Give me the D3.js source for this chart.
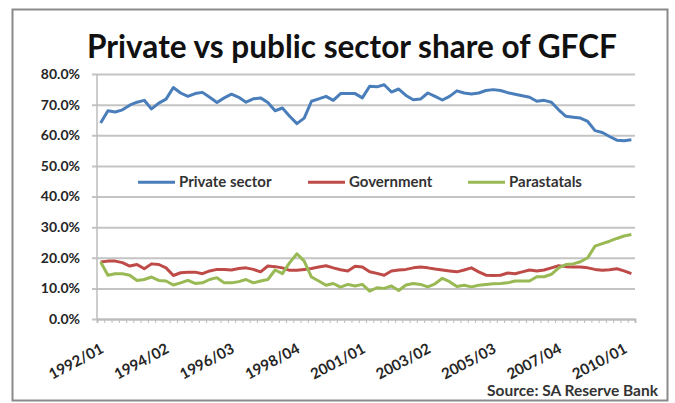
<!DOCTYPE html>
<html>
<head>
<meta charset="utf-8">
<script src="https://cdn.jsdelivr.net/npm/d3@7"></script>
<style>
  body { margin: 0; background: #fff; }
  text { font-family: Lato, "Open Sans", sans-serif; }
</style>
</head>
<body>
<div id="container"></div>
<script>
// Private vs public sector share of GFCF, quarterly 1992/01 - 2010/02

// tick labels shown on the x axis (every 9th quarter)
var tickLabels = ["1992/01", "1994/02", "1996/03", "1998/04", "2001/01",
                  "2003/02", "2005/03", "2007/04", "2010/01"];

// quarters from 1992/01 to 2010/02
var quarters = [];
for (var yr = 1992; yr <= 2010; yr++) {
  for (var q = 1; q <= 4; q++) {
    if (quarters.length < 74) quarters.push(yr + "/0" + q);
  }
}

var privateSector = [
  64.0, 68.0, 67.6, 68.3, 69.8, 70.8, 71.4, 68.6, 70.5, 71.8,
  75.6, 73.8, 72.7, 73.6, 74.0, 72.4, 70.7, 72.2, 73.4, 72.4,
  70.8, 71.9, 72.2, 70.7, 68.0, 68.9, 66.2, 63.8, 65.6, 71.1,
  71.9, 72.7, 71.4, 73.6, 73.6, 73.6, 72.2, 76.0, 75.8, 76.5,
  74.1, 75.1, 73.0, 71.6, 71.8, 73.8, 72.7, 71.5, 72.7, 74.5,
  73.8, 73.5, 73.8, 74.6, 74.9, 74.6, 73.9, 73.4, 72.9, 72.4,
  71.1, 71.4, 70.8, 68.3, 66.2, 65.9, 65.6, 64.5, 61.5, 60.9,
  59.6, 58.4, 58.2, 58.5
];

var government = [
  18.6, 18.9, 18.9, 18.4, 17.3, 17.8, 16.4, 18.0, 17.8, 16.7,
  14.2, 15.1, 15.3, 15.3, 14.8, 15.7, 16.2, 16.2, 16.0, 16.5,
  16.7, 16.2, 15.4, 17.3, 17.1, 16.7, 15.9, 15.9, 16.2, 16.5,
  17.0, 17.4, 16.7, 16.1, 15.7, 17.2, 17.0, 15.4, 14.9, 14.3,
  15.7, 16.0, 16.2, 16.7, 17.0, 16.7, 16.3, 16.0, 15.7, 15.4,
  16.0, 16.7, 15.4, 14.3, 14.2, 14.3, 15.0, 14.8, 15.4, 16.0,
  15.7, 16.0, 16.7, 17.4, 17.1, 17.0, 17.0, 16.7, 16.2, 15.9,
  16.1, 16.4, 15.7, 14.8
];

var parastatals = [
  18.6, 14.3, 14.8, 14.8, 14.3, 12.6, 12.9, 13.7, 12.6, 12.4,
  11.1, 11.8, 12.6, 11.6, 11.8, 12.9, 13.5, 11.8, 11.8, 12.2,
  12.9, 11.8, 12.4, 12.9, 16.0, 14.8, 18.4, 21.3, 18.9, 13.7,
  12.4, 11.0, 11.6, 10.4, 11.3, 10.8, 11.3,  9.1, 10.2, 10.0,
  10.8,  9.3, 11.1, 11.6, 11.3, 10.5, 11.5, 13.3, 12.2, 10.6,
  11.0, 10.5, 11.0, 11.3, 11.5, 11.6, 11.8, 12.4, 12.4, 12.4,
  13.8, 13.8, 14.6, 16.7, 17.8, 18.0, 18.7, 20.0, 23.8, 24.6,
  25.4, 26.3, 27.1, 27.6
];

var seriesNames = ["Private sector", "Government", "Parastatals"];
var seriesColors = ["#4a7ebb", "#be4b48", "#98b954"];
var allSeries = [privateSector, government, parastatals];

var W = 675, H = 403;
var margin = {top: 74, right: 40, bottom: 84, left: 97},
    width = 635 - margin.left,
    height = 319 - margin.top;

var root = d3.select("#container").append("svg")
    .attr("width", W)
    .attr("height", H);

// chart border
root.append("rect")
    .attr("x", 12.5).attr("y", 9.5)
    .attr("width", 655).attr("height", 391)
    .attr("fill", "#fff")
    .attr("stroke", "#8a8a8a")
    .attr("stroke-width", 2);

// title, fitted to the width of the original
var title = root.append("text")
    .attr("x", 352)
    .attr("y", 58)
    .attr("text-anchor", "middle")
    .style("font-weight", "bold")
    .style("font-size", "30px")
    .style("fill", "#111")
    .text("Private vs public sector share of GFCF");
var tl = title.node().getComputedTextLength();
title.style("font-size", (30 * 530 / tl) + "px");

var svg = root.append("g")
    .attr("transform", "translate(" + margin.left + "," + margin.top + ")");

var x = d3.scaleBand().domain(quarters).range([0, width]).paddingInner(0).paddingOuter(0);
var xEdge = d3.scaleLinear().domain([0, quarters.length]).range([0, width]);
var y = d3.scaleLinear().domain([0, 0.8]).range([height, 0]);

// y gridlines
svg.append("g")
    .attr("class", "grid")
    .call(d3.axisLeft(y)
        .tickValues(d3.range(0, 0.81, 0.1))
        .tickSize(-width - 5)
        .tickFormat(""))
    .attr("transform", "translate(-5,0)")
    .call(function(g) {
      g.select(".domain").remove();
      g.selectAll(".tick line").attr("stroke", "#c4c4c4").attr("stroke-width", 2);
    });

// y axis line
svg.append("line")
    .attr("x1", 0).attr("x2", 0)
    .attr("y1", 0).attr("y2", height)
    .attr("stroke", "#bcbcbc")
    .attr("stroke-width", 1.5);

// y labels
svg.append("g")
    .call(d3.axisLeft(y)
        .tickValues(d3.range(0, 0.81, 0.1))
        .tickSize(0)
        .tickPadding(17)
        .tickFormat(d3.format(".1%")))
    .call(function(g) {
      g.select(".domain").remove();
      g.selectAll("text")
          .style("font-family", "Lato, sans-serif")
          .style("font-size", "14px")
          .style("font-weight", "bold")
          .style("fill", "#262626");
    });

// x axis small ticks between categories
svg.append("g")
    .attr("transform", "translate(0," + height + ")")
    .call(d3.axisBottom(xEdge)
        .tickValues(d3.range(0, quarters.length + 1))
        .tickSize(4)
        .tickFormat(""))
    .call(function(g) {
      g.select(".domain").attr("stroke", "#bcbcbc").attr("stroke-width", 2);
      g.selectAll(".tick line").attr("stroke", "#bcbcbc").attr("stroke-width", 1);
    });

// x tick labels, rotated
svg.append("g")
    .attr("transform", "translate(0," + height + ")")
    .call(d3.axisBottom(x)
        .tickValues(tickLabels)
        .tickSize(0))
    .call(function(g) {
      g.select(".domain").remove();
      g.selectAll("text")
          .attr("y", 0)
          .attr("dy", 0)
          .attr("transform", "translate(4,33) rotate(-28)")
          .style("text-anchor", "end")
          .style("font-family", "Lato, sans-serif")
          .style("font-size", "15px")
          .style("font-weight", "bold")
          .style("fill", "#262626");
    });

// lines
var line = d3.line()
    .x(function(d, i) { return x(quarters[i]) + x.bandwidth() / 2; })
    .y(function(d) { return y(d / 100); });

allSeries.forEach(function(s, k) {
  svg.append("path")
      .datum(s)
      .attr("fill", "none")
      .attr("stroke", seriesColors[k])
      .attr("stroke-width", 3)
      .attr("stroke-linejoin", "round")
      .attr("d", line);
});

// legend
var legendX = [41, 211, 371];
var legend = svg.selectAll(".legend")
    .data(seriesNames)
  .enter().append("g")
    .attr("class", "legend")
    .attr("transform", function(d, i) {
      return "translate(" + legendX[i] + "," + (y(0.45) + 1) + ")";
    });
legend.append("line")
    .attr("x1", 0).attr("x2", 37)
    .attr("stroke", function(d, i) { return seriesColors[i]; })
    .attr("stroke-width", 3);
legend.append("text")
    .attr("x", 41)
    .attr("dy", "0.35em")
    .style("font-size", "15px")
    .style("font-weight", "bold")
    .style("fill", "#333")
    .text(function(d) { return d; });

// source
root.append("text")
    .attr("x", 658)
    .attr("y", 396)
    .attr("text-anchor", "end")
    .style("font-size", "15.5px")
    .style("font-weight", "bold")
    .style("fill", "#333")
    .text("Source: SA Reserve Bank");
</script>
</body>
</html>
